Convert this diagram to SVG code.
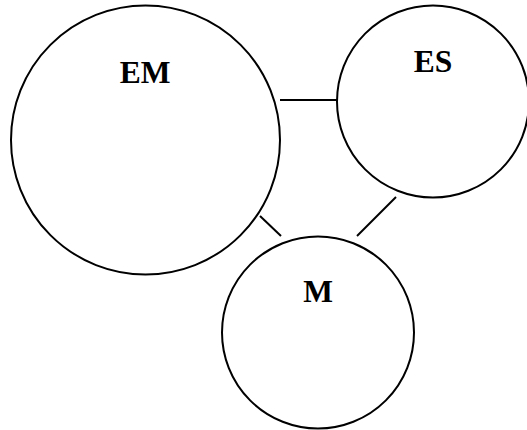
<svg xmlns="http://www.w3.org/2000/svg" width="527" height="430" viewBox="0 0 527 430">
  <style>
    .ring { fill: #ffffff; stroke: #000000; stroke-width: 2; }
    .link { stroke: #000000; stroke-width: 2; fill: none; }
    .label { font-family: "Liberation Serif", "Times New Roman", serif; font-weight: bold; font-size: 31.5px; text-anchor: middle; fill: #000000; }
  </style>
  <rect width="527" height="430" fill="#ffffff"/>
  <g id="connectors">
    <line class="link" x1="280" y1="100" x2="337" y2="100"/>
    <line class="link" x1="260" y1="216" x2="281" y2="236"/>
    <line class="link" x1="396" y1="197" x2="357" y2="236"/>
  </g>
  <g id="node-em">
    <circle class="ring" cx="145.5" cy="140" r="134.5"/>
    <text class="label" x="145" y="83">EM</text>
  </g>
  <g id="node-es">
    <circle class="ring" cx="433" cy="101.5" r="96"/>
    <text class="label" x="433" y="72">ES</text>
  </g>
  <g id="node-m">
    <circle class="ring" cx="318" cy="332.5" r="96"/>
    <text class="label" x="318" y="302">M</text>
  </g>
</svg>
